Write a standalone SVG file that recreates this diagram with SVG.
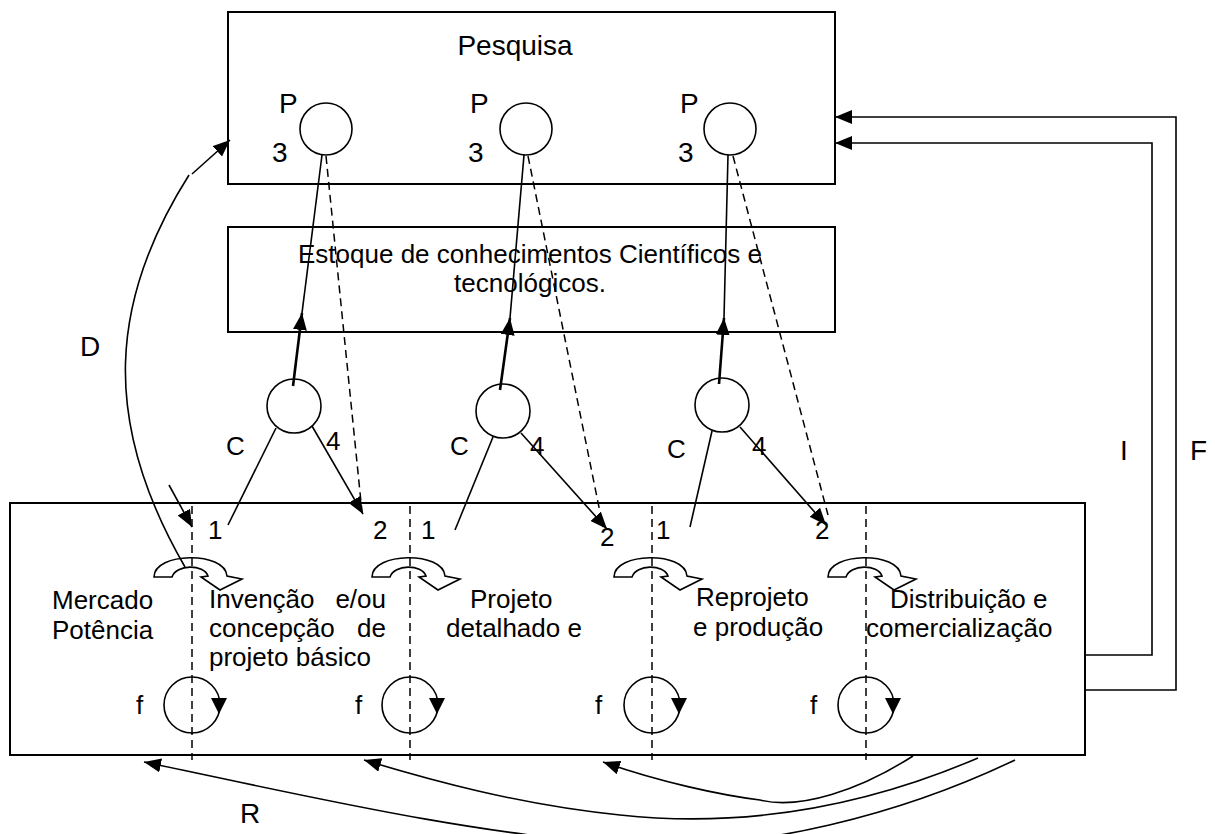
<svg xmlns="http://www.w3.org/2000/svg" width="1215" height="834" viewBox="0 0 1215 834">
  <style>
    .ln{stroke:#000;stroke-width:1.6;fill:none}
    .thick{stroke:#000;stroke-width:2.6;fill:none}
    .dash{stroke:#000;stroke-width:1.5;fill:none;stroke-dasharray:8 5}
    .box{stroke:#000;stroke-width:2;fill:#fff}
    .t{font-family:"Liberation Sans",Arial,sans-serif;fill:#000;font-size:26px}
    .big{font-size:28px}
  </style>
  <defs>
    <marker id="ah" markerUnits="userSpaceOnUse" markerWidth="18" markerHeight="14" refX="17" refY="7" orient="auto">
      <path d="M0,0 L17,7 L0,14 Z" fill="#000"/>
    </marker>
    <!-- hollow turn arrow placed on each phase boundary -->
    <path id="turn" d="M-38,19 C-38,-6 33,-7 35,18 L50,21 L28,32 L9,19 L16,18 C12,6 -16,6 -20,19 Z" fill="none" stroke="#000" stroke-width="1.6" stroke-linejoin="miter"/>
    <!-- feedback loop inside a phase -->
    <g id="loop">
      <circle cx="0" cy="0" r="28" fill="none" stroke="#000" stroke-width="1.6"/>
      <path d="M19,-7 L35,-7 L27,9 Z" fill="#000"/>
    </g>
  </defs>

  <rect width="1215" height="834" fill="#fff"/>

  <!-- research box -->
  <g id="pesquisa">
    <rect class="box" x="228" y="12" width="607" height="172"/>
    <text class="t big" x="515" y="55" text-anchor="middle">Pesquisa</text>
    <circle cx="326" cy="129" r="26" class="ln"/>
    <circle cx="526" cy="129" r="26" class="ln"/>
    <circle cx="730" cy="129" r="26" class="ln"/>
    <text class="t big" x="279" y="113">P</text>
    <text class="t big" x="272" y="162">3</text>
    <text class="t big" x="470" y="113">P</text>
    <text class="t big" x="468" y="162">3</text>
    <text class="t big" x="680" y="113">P</text>
    <text class="t big" x="678" y="162">3</text>
  </g>

  <!-- knowledge stock box -->
  <g id="estoque">
    <rect class="box" x="228" y="227" width="607" height="105"/>
    <text class="t" x="530" y="263" text-anchor="middle">Estoque de conhecimentos Científicos e</text>
    <text class="t" x="530" y="292" text-anchor="middle">tecnológicos.</text>
  </g>

  <!-- phases box -->
  <g id="fases">
    <rect class="box" x="10" y="503" width="1075" height="252"/>
    <text class="t" x="52" y="609">Mercado</text>
    <text class="t" x="52" y="639">Potência</text>
    <text class="t" x="209" y="608">Invenção</text>
    <text class="t" x="386" y="608" text-anchor="end">e/ou</text>
    <text class="t" x="209" y="637">concepção</text>
    <text class="t" x="386" y="637" text-anchor="end">de</text>
    <text class="t" x="209" y="666">projeto básico</text>
    <text class="t" x="470" y="608">Projeto</text>
    <text class="t" x="446" y="637">detalhado e</text>
    <text class="t" x="696" y="606">Reprojeto</text>
    <text class="t" x="693" y="636">e produção</text>
    <text class="t" x="890" y="608">Distribuição e</text>
    <text class="t" x="866" y="637">comercialização</text>
    <text class="t" x="208" y="539">1</text>
    <text class="t" x="373" y="539">2</text>
    <text class="t" x="421" y="539">1</text>
    <text class="t" x="600" y="546">2</text>
    <text class="t" x="656" y="539">1</text>
    <text class="t" x="815" y="539">2</text>
    <text class="t" x="136" y="714">f</text>
    <text class="t" x="355" y="714">f</text>
    <text class="t" x="595" y="714">f</text>
    <text class="t" x="810" y="714">f</text>
  </g>

  <!-- phase boundaries, turn arrows and loops -->
  <g id="fronteiras">
    <line class="dash" x1="192" y1="506" x2="192" y2="760"/>
    <line class="dash" x1="410" y1="506" x2="410" y2="760"/>
    <line class="dash" x1="652" y1="506" x2="652" y2="760"/>
    <line class="dash" x1="866" y1="506" x2="866" y2="760"/>
    <use href="#turn" transform="translate(192,558)"/>
    <use href="#turn" transform="translate(410,558)"/>
    <use href="#turn" transform="translate(652,558)"/>
    <use href="#turn" transform="translate(866,558)"/>
    <use href="#loop" transform="translate(192,705)"/>
    <use href="#loop" transform="translate(410,705)"/>
    <use href="#loop" transform="translate(652,705)"/>
    <use href="#loop" transform="translate(866,705)"/>
  </g>

  <!-- coupling nodes -->
  <g id="acoplamento-1">
    <circle cx="294" cy="406" r="27" class="ln"/>
    <text class="t" x="226" y="455">C</text>
    <text class="t" x="326" y="450">4</text>
  </g>
  <g id="acoplamento-2">
    <circle cx="503" cy="411" r="27" class="ln"/>
    <text class="t" x="450" y="455">C</text>
    <text class="t" x="530" y="455">4</text>
  </g>
  <g id="acoplamento-3">
    <circle cx="722" cy="405" r="27" class="ln"/>
    <text class="t" x="667" y="458">C</text>
    <text class="t" x="752" y="455">4</text>
  </g>

  <!-- connectors -->
  <g id="conectores">
    <!-- group 1 -->
    <line class="thick" x1="293" y1="386" x2="302" y2="313" marker-end="url(#ah)"/>
    <line class="ln" x1="302" y1="313" x2="322" y2="155"/>
    <line class="dash" x1="326" y1="156" x2="362" y2="512"/>
    <line class="ln" x1="276" y1="428" x2="228" y2="525"/>
    <line class="ln" x1="312" y1="426" x2="363" y2="514" marker-end="url(#ah)"/>
    <!-- group 2 -->
    <line class="thick" x1="500" y1="390" x2="510" y2="318" marker-end="url(#ah)"/>
    <line class="ln" x1="510" y1="318" x2="524" y2="155"/>
    <line class="dash" x1="528" y1="156" x2="603" y2="527"/>
    <line class="ln" x1="493" y1="437" x2="455" y2="530"/>
    <line class="ln" x1="521" y1="433" x2="607" y2="529" marker-end="url(#ah)"/>
    <!-- group 3 -->
    <line class="thick" x1="719" y1="384" x2="724" y2="318" marker-end="url(#ah)"/>
    <line class="ln" x1="724" y1="318" x2="728" y2="155"/>
    <line class="dash" x1="733" y1="156" x2="828" y2="515"/>
    <line class="ln" x1="712" y1="431" x2="690" y2="527"/>
    <line class="ln" x1="740" y1="427" x2="826" y2="525" marker-end="url(#ah)"/>
    <!-- entry into phase 1 -->
    <line class="ln" x1="169" y1="485" x2="192" y2="527" marker-end="url(#ah)"/>
    <!-- D: demand back to research -->
    <path class="ln" d="M185,567 C100,420 110,300 189,175"/>
    <line class="ln" x1="192" y1="174" x2="230" y2="140" marker-end="url(#ah)"/>
    <text class="t big" x="80" y="356">D</text>
    <!-- I and F: returns to research -->
    <path class="ln" d="M1085,655 H1152 V143 H835" marker-end="url(#ah)"/>
    <path class="ln" d="M1085,690 H1176 V117 H835" marker-end="url(#ah)"/>
    <text class="t big" x="1120" y="460">I</text>
    <text class="t big" x="1190" y="460">F</text>
    <!-- R: feedback from market -->
    <path class="ln" d="M913,756 C860,790 800,810 760,800 C720,795 660,782 603,762" marker-end="url(#ah)"/>
    <path class="ln" d="M978,758 C880,800 760,830 620,815 C520,805 430,780 364,760" marker-end="url(#ah)"/>
    <path class="ln" d="M1015,760 C900,815 760,850 640,845 C480,838 280,790 144,762" marker-end="url(#ah)"/>
    <text class="t big" x="240" y="823">R</text>
  </g>
</svg>
